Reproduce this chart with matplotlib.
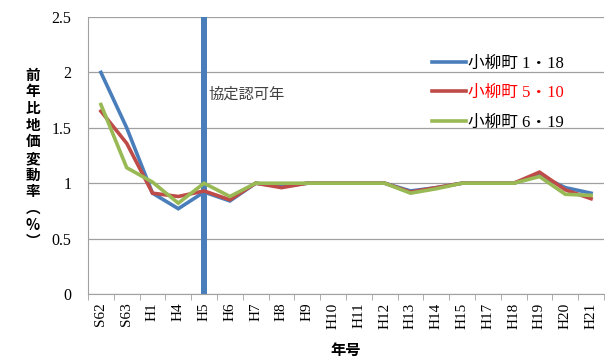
import numpy as np
import matplotlib.pyplot as plt
from matplotlib.lines import Line2D

# data
years = ['S62', 'S63', 'H1', 'H4', 'H5', 'H6', 'H7', 'H8', 'H9', 'H10',
         'H11', 'H12', 'H13', 'H14', 'H15', 'H17', 'H18', 'H19', 'H20', 'H21']
town_1_18 = [2.00, 1.50, 0.91, 0.77, 0.92, 0.84, 1.00, 0.97, 1.00, 1.00,
             1.00, 1.00, 0.93, 0.96, 1.00, 1.00, 1.00, 1.07, 0.96, 0.91]
town_5_10 = [1.65, 1.36, 0.91, 0.88, 0.93, 0.85, 1.00, 0.96, 1.00, 1.00,
             1.00, 1.00, 0.92, 0.96, 1.00, 1.00, 1.00, 1.10, 0.94, 0.86]
town_6_19 = [1.71, 1.14, 1.01, 0.82, 1.00, 0.88, 1.00, 1.00, 1.00, 1.00,
             1.00, 1.00, 0.91, 0.95, 1.00, 1.00, 1.00, 1.06, 0.90, 0.89]
names = ['小柳町 1・18', '小柳町 5・10', '小柳町 6・19']
approval_year = 'H5'
approval_height = 2.5

serif = ['Liberation Serif', 'Noto Sans CJK JP']
cjk = ['Noto Sans CJK JP', 'DejaVu Sans']

fig = plt.figure(figsize=(6.11, 3.59), dpi=100)
ax = fig.add_axes([88/611, 1 - 294/359, 516/611, 277/359])

x = np.arange(len(years))
idx = years.index(approval_year)
ax.bar(x[idx], approval_height, width=0.22, color='#4a7ebb', zorder=2)

colors = ['#4a7ebb', '#be4b48', '#98b954']
for vals, c in zip([town_1_18, town_5_10, town_6_19], colors):
    ax.plot(x, vals, color=c, lw=2.6, zorder=3, solid_joinstyle='miter')

ax.set_xlim(-0.5, len(years) - 0.5)
ax.set_ylim(0, 2.5)
ax.set_yticks([0, 0.5, 1, 1.5, 2, 2.5])
ax.set_yticklabels(['0', '0.5', '1', '1.5', '2', '2.5'], family=serif, fontsize=11.5)
ax.yaxis.grid(True, color='#a0a0a0', lw=0.9)
ax.set_axisbelow(True)
ax.tick_params(axis='y', length=0, pad=12)

ax.set_xticks(x)
ax.set_xticklabels(years, rotation=90, family=serif, fontsize=11)
ax.set_xticks(np.arange(-0.5, len(years)), minor=True)
ax.tick_params(axis='x', which='major', length=0, pad=6)
ax.tick_params(axis='x', which='minor', length=4, color='#a0a0a0', direction='out')

for s in ['top', 'right']:
    ax.spines[s].set_visible(False)
ax.spines['left'].set_color('#a0a0a0')
ax.spines['bottom'].set_color('#a0a0a0')

ax.text(x[idx] + 0.15, 1.8, '協定認可年', family=cjk, fontsize=11,
        color='#404040', va='center', ha='left')

# legend
handles = [Line2D([], [], color=c, lw=2.6) for c in colors]
leg = ax.legend(handles, names, loc='upper left', bbox_to_anchor=(0.651, 0.89),
                frameon=False, prop={'family': serif, 'size': 12}, borderpad=0,
                handlelength=2.0, handletextpad=0.15, labelspacing=0.8)
leg.get_texts()[1].set_color('#ff0000')

# vertical y label
fig.text(33/611, 1 - 158/359, '前\n年\n比\n地\n価\n変\n動\n率\n︵\n%\n︶',
         family=cjk, fontsize=10.5, fontweight='bold', ha='center', va='center',
         linespacing=1.05)
fig.text(346/611, 1 - 350/359, '年号', family=cjk, fontsize=11,
         fontweight='bold', ha='center', va='center')

fig.savefig('out.png', dpi=100)
